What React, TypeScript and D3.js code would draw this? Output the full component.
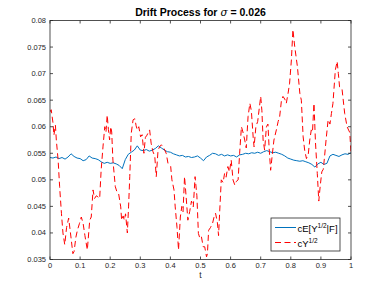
import * as d3 from 'd3';

// --- data ---
const tBlue = d3.range(0, 101).map((i) => i / 100);
const condMean = [
  0.0542, 0.0541, 0.0543, 0.054, 0.0542, 0.0539, 0.0543, 0.0549, 0.0544, 0.0541,
  0.054, 0.0536, 0.0538, 0.0545, 0.0541, 0.054, 0.0538, 0.0534, 0.0531, 0.0533,
  0.0531, 0.0532, 0.053, 0.0527, 0.0521, 0.0538, 0.0548, 0.0552, 0.0556, 0.0564,
  0.0556, 0.0555, 0.0557, 0.0554, 0.0556, 0.0559, 0.0564, 0.056, 0.0556, 0.0553,
  0.0552, 0.0549, 0.0547, 0.0545, 0.0546, 0.0543, 0.0544, 0.0542, 0.0543, 0.0545,
  0.0541, 0.0536, 0.0543, 0.0546, 0.055, 0.0549, 0.0546, 0.0548, 0.0545, 0.0547,
  0.0545, 0.0546, 0.0543, 0.0547, 0.0548, 0.055, 0.0549, 0.0551, 0.055, 0.0552,
  0.055, 0.0553, 0.0555, 0.0553, 0.0551, 0.0552, 0.055, 0.0548, 0.0545, 0.0541,
  0.0539, 0.0537, 0.0536, 0.0535, 0.0536, 0.0534, 0.0532, 0.0529, 0.0524, 0.053,
  0.0533, 0.0529, 0.0531, 0.0545, 0.0548, 0.0546, 0.0544, 0.0547, 0.0549, 0.0548,
  0.0551,
];

const tRed = [
  0, 0.004, 0.01, 0.013, 0.018, 0.021, 0.027, 0.032, 0.038, 0.043, 0.049, 0.055,
  0.062, 0.068, 0.076, 0.08, 0.086, 0.091, 0.098, 0.104, 0.11, 0.116, 0.124, 0.132,
  0.137, 0.143, 0.148, 0.154, 0.159, 0.165, 0.17, 0.176, 0.182, 0.186, 0.19, 0.194,
  0.198, 0.202, 0.205, 0.209, 0.217, 0.222, 0.228, 0.235, 0.238, 0.243, 0.247, 0.251,
  0.257, 0.261, 0.265, 0.27, 0.276, 0.282, 0.286, 0.29, 0.295, 0.301, 0.306, 0.312,
  0.317, 0.322, 0.331, 0.336, 0.342, 0.348, 0.353, 0.359, 0.364, 0.37, 0.378, 0.386,
  0.392, 0.401, 0.405, 0.412, 0.416, 0.422, 0.427, 0.433, 0.438, 0.442, 0.447, 0.452,
  0.458, 0.464, 0.47, 0.476, 0.482, 0.488, 0.493, 0.498, 0.503, 0.509, 0.514, 0.52,
  0.523, 0.527, 0.533, 0.54, 0.545, 0.55, 0.556, 0.56, 0.564, 0.569, 0.575, 0.58,
  0.585, 0.591, 0.596, 0.602, 0.608, 0.614, 0.619, 0.625, 0.63, 0.636, 0.641, 0.647,
  0.652, 0.658, 0.664, 0.669, 0.675, 0.678, 0.684, 0.69, 0.7, 0.704, 0.708, 0.713,
  0.719, 0.724, 0.728, 0.733, 0.738, 0.744, 0.752, 0.758, 0.763, 0.769, 0.774, 0.78,
  0.785, 0.791, 0.796, 0.802, 0.807, 0.813, 0.822, 0.83, 0.835, 0.841, 0.846, 0.852,
  0.858, 0.863, 0.868, 0.872, 0.877, 0.882, 0.888, 0.893, 0.898, 0.903, 0.908, 0.912,
  0.918, 0.924, 0.93, 0.935, 0.94, 0.948, 0.954, 0.958, 0.962, 0.97, 0.979, 0.987,
  0.996, 1,
];
const sqrtY = [
  0.0628, 0.0632, 0.0607, 0.0584, 0.0603, 0.0575, 0.0537, 0.0487, 0.0437, 0.04, 0.0378, 0.041,
  0.0428, 0.04, 0.0361, 0.0365, 0.0392, 0.0405, 0.0418, 0.043, 0.0418, 0.0395, 0.0368, 0.0424,
  0.043, 0.0481, 0.0465, 0.047, 0.0468, 0.0465, 0.0519, 0.0562, 0.06, 0.059, 0.0622, 0.0595,
  0.0575, 0.06, 0.059, 0.0537, 0.0487, 0.0478, 0.0474, 0.0449, 0.0424, 0.0432, 0.0424, 0.0436,
  0.04, 0.0449, 0.0506, 0.0588, 0.0613, 0.0615, 0.0602, 0.0594, 0.06, 0.0581, 0.0585, 0.055,
  0.058, 0.0584, 0.0594, 0.0569, 0.0553, 0.0545, 0.0506, 0.0556, 0.0562, 0.0566, 0.056, 0.055,
  0.0531, 0.0525, 0.05, 0.0481, 0.0449, 0.041, 0.0368, 0.043, 0.045, 0.044, 0.0506, 0.047,
  0.0424, 0.044, 0.046, 0.0449, 0.0506, 0.047, 0.0399, 0.039, 0.0393, 0.0374, 0.0374, 0.0355,
  0.0361, 0.0405, 0.041, 0.0418, 0.043, 0.0437, 0.042, 0.0395, 0.0443, 0.05, 0.0495, 0.0512,
  0.0505, 0.0525, 0.0515, 0.0537, 0.05, 0.049, 0.0497, 0.05, 0.055, 0.06, 0.059, 0.0575,
  0.056, 0.0619, 0.0644, 0.063, 0.058, 0.0562, 0.06, 0.061, 0.0657, 0.063, 0.0575, 0.0556,
  0.06, 0.0605, 0.056, 0.0518, 0.0545, 0.0575, 0.0594, 0.061, 0.0619, 0.065, 0.0657, 0.0652,
  0.0644, 0.0663, 0.0682, 0.0726, 0.0783, 0.0751, 0.0713, 0.0663, 0.065, 0.0581, 0.0556, 0.054,
  0.0548, 0.0575, 0.0594, 0.059, 0.0644, 0.057, 0.0512, 0.046, 0.049, 0.0515, 0.052, 0.0543,
  0.058, 0.0613, 0.0605, 0.0625, 0.0644, 0.0707, 0.0723, 0.07, 0.0675, 0.0672, 0.0625, 0.06,
  0.0589, 0.055,
];

const xTicks = [0, 0.1, 0.2, 0.3, 0.4, 0.5, 0.6, 0.7, 0.8, 0.9, 1];
const xTickLabels = ['0', '0.1', '0.2', '0.3', '0.4', '0.5', '0.6', '0.7', '0.8', '0.9', '1'];
const yTicks = [0.035, 0.04, 0.045, 0.05, 0.055, 0.06, 0.065, 0.07, 0.075, 0.08];
const yTickLabels = ['0.035', '0.04', '0.045', '0.05', '0.055', '0.06', '0.065', '0.07', '0.075', '0.08'];

const W = 388;
const H = 291;
const margin = { left: 50, right: 37, top: 20.5, bottom: 31.5 };
const axisColor = '#262626';
const blue = '#0072BD';
const red = '#FF0000';
const font = '"Liberation Sans", Arial, Helvetica, sans-serif';

export default function App() {
  const x = d3.scaleLinear().domain([0, 1]).range([margin.left, W - margin.right]);
  const y = d3.scaleLinear().domain([0.035, 0.08]).range([H - margin.bottom, margin.top]);
  const [x0, x1] = x.range();
  const [yb, yt] = y.range();

  const blueLine = d3
    .line<number>()
    .x((_, i) => x(tBlue[i]))
    .y((d) => y(d));
  const redLine = d3
    .line<number>()
    .x((_, i) => x(tRed[i]))
    .y((d) => y(d));

  const tick = 3;
  const legX = 271;
  const legY = 218;

  return (
    <svg
      width={W}
      height={H}
      style={{ position: 'absolute', left: 0, top: 0, background: '#fff', fontFamily: font }}
    >
      <rect x={0} y={0} width={W} height={H} fill="#fff" />
      <defs>
        <clipPath id="plot">
          <rect x={x0} y={yt} width={x1 - x0} height={yb - yt} />
        </clipPath>
      </defs>

      <g clipPath="url(#plot)">
        <path d={blueLine(condMean) || ''} fill="none" stroke={blue} strokeWidth={1} />
        <path
          d={redLine(sqrtY) || ''}
          fill="none"
          stroke={red}
          strokeWidth={1}
          strokeDasharray="6,3.5"
        />
      </g>

      {/* box and ticks */}
      <rect x={x0} y={yt} width={x1 - x0} height={yb - yt} fill="none" stroke={axisColor} strokeWidth={0.8} />
      {xTicks.map((t, i) => (
        <g key={'x' + i}>
          <line x1={x(t)} x2={x(t)} y1={yb} y2={yb - tick} stroke={axisColor} strokeWidth={0.8} />
          <line x1={x(t)} x2={x(t)} y1={yt} y2={yt + tick} stroke={axisColor} strokeWidth={0.8} />
          <text x={x(t)} y={yb + 8} fontSize={7.5} fill={axisColor} textAnchor="middle">
            {xTickLabels[i]}
          </text>
        </g>
      ))}
      {yTicks.map((v, i) => (
        <g key={'y' + i}>
          <line x1={x0} x2={x0 + tick} y1={y(v)} y2={y(v)} stroke={axisColor} strokeWidth={0.8} />
          <line x1={x1} x2={x1 - tick} y1={y(v)} y2={y(v)} stroke={axisColor} strokeWidth={0.8} />
          <text x={x0 - 4} y={y(v) + 2.5} fontSize={7.5} fill={axisColor} textAnchor="end">
            {yTickLabels[i]}
          </text>
        </g>
      ))}

      <text x={(x0 + x1) / 2} y={yb + 18.5} fontSize={8.5} fill={axisColor} textAnchor="middle">
        t
      </text>

      <text x={(x0 + x1) / 2} y={16} fontSize={10.5} fontWeight="bold" fill="#000" textAnchor="middle">
        Drift Process for{' '}
        <tspan fontStyle="italic" fontWeight="normal" fontFamily='"DejaVu Serif", serif'>
          σ
        </tspan>{' '}
        = 0.026
      </text>

      {/* legend */}
      <rect x={legX} y={legY} width={69} height={33} fill="#fff" stroke={axisColor} strokeWidth={0.8} />
      <line x1={legX + 4} x2={legX + 25} y1={legY + 9.5} y2={legY + 9.5} stroke={blue} strokeWidth={1} />
      <text x={legX + 26.5} y={legY + 13.5} fontSize={9.5} fill="#000">
        cE[Y
        <tspan fontSize={6.5} dy={-4}>
          1/2
        </tspan>
        <tspan dy={4}>|F]</tspan>
      </text>
      <line
        x1={legX + 4}
        x2={legX + 25}
        y1={legY + 24.5}
        y2={legY + 24.5}
        stroke={red}
        strokeWidth={1}
        strokeDasharray="6,3.5"
      />
      <text x={legX + 26.5} y={legY + 29} fontSize={9.5} fill="#000">
        cY
        <tspan fontSize={6.5} dy={-4}>
          1/2
        </tspan>
      </text>
    </svg>
  );
}
